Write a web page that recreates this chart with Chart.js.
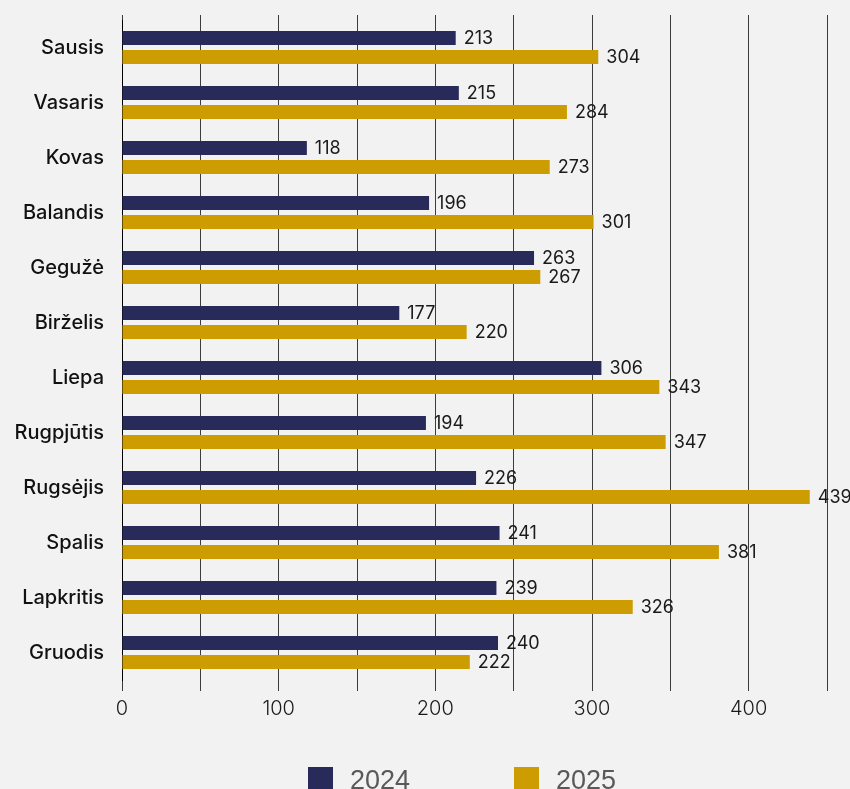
<!DOCTYPE html>
<html>
<head>
<meta charset="utf-8">
<script src="https://cdn.jsdelivr.net/npm/chart.js@4"></script>
<style>
  html, body { margin: 0; padding: 0; background: #f2f2f2; overflow: hidden; }
  canvas { display: block; }
</style>
</head>
<body>
<canvas id="chart" width="850" height="789"></canvas>
<script>
const MONTHS = ['Sausis', 'Vasaris', 'Kovas', 'Balandis', 'Gegužė', 'Birželis',
  'Liepa', 'Rugpjūtis', 'Rugsėjis', 'Spalis', 'Lapkritis', 'Gruodis'];
const VALUES_2024 = [213, 215, 118, 196, 263, 177, 306, 194, 226, 241, 239, 240];
const VALUES_2025 = [304, 284, 273, 301, 267, 220, 343, 347, 439, 381, 326, 222];
const SERIES_NAMES = ['2024', '2025'];
const X_MAX = 450;

const NAVY = '#282a5a';
const GOLD = '#cc9c00';

// value labels at the end of each bar
const valueLabels = {
  id: 'valueLabels',
  afterDatasetsDraw(chart) {
    const { ctx } = chart;
    ctx.save();
    ctx.font = '18px Inter';
    ctx.fillStyle = '#1a1a1a';
    ctx.textAlign = 'left';
    ctx.textBaseline = 'middle';
    chart.data.datasets.forEach((ds, i) => {
      chart.getDatasetMeta(i).data.forEach((bar, j) => {
        ctx.fillText(ds.data[j], bar.x + 8, bar.y + 1);
      });
    });
    ctx.restore();
  },
};

// gridlines poke a few px above the plot area
const gridTop = {
  id: 'gridTop',
  beforeDatasetsDraw(chart) {
    const { ctx, chartArea, scales } = chart;
    ctx.save();
    ctx.strokeStyle = '#3c3c3c';
    ctx.lineWidth = 1;
    scales.x.ticks.forEach((t) => {
      const x = Math.round(scales.x.getPixelForValue(t.value) - 0.5) + 0.5;
      ctx.beginPath();
      ctx.moveTo(x, chartArea.top - 5);
      ctx.lineTo(x, chartArea.top);
      ctx.stroke();
    });
    ctx.restore();
  },
};

// legend under the axis, wide spacing between items
const bottomLegend = {
  id: 'bottomLegend',
  afterDraw(chart) {
    const { ctx } = chart;
    const starts = [308, 514];
    ctx.save();
    ctx.font = '27px "Liberation Sans"';
    ctx.textBaseline = 'alphabetic';
    chart.data.datasets.forEach((ds, i) => {
      ctx.fillStyle = ds.backgroundColor;
      ctx.fillRect(starts[i], 767, 25, 25);
      ctx.fillStyle = '#595959';
      ctx.fillText(ds.label, starts[i] + 42, 788.5);
    });
    ctx.restore();
  },
};

new Chart(document.getElementById('chart'), {
  type: 'bar',
  data: {
    labels: MONTHS,
    datasets: [
      { label: SERIES_NAMES[0], data: VALUES_2024, backgroundColor: NAVY },
      { label: SERIES_NAMES[1], data: VALUES_2025, backgroundColor: GOLD },
    ],
  },
  options: {
    indexAxis: 'y',
    responsive: false,
    animation: false,
    categoryPercentage: 0.691,
    barPercentage: 0.737,
    layout: { padding: { top: 20, right: 23, left: 0, bottom: 0 } },
    scales: {
      x: {
        min: 0,
        max: X_MAX,
        ticks: {
          stepSize: 50,
          padding: 6,
          color: '#1a1a1a',
          font: { family: 'Inter', size: 20, weight: '300' },
          callback: (v) => (v % 100 === 0 && v < X_MAX ? v : ''),
          maxRotation: 0,
          autoSkip: false,
        },
        grid: { color: '#3c3c3c', lineWidth: 1, tickLength: 11 },
        border: { display: false },
        afterFit(scale) { scale.height = 109; },
      },
      y: {
        ticks: {
          padding: 18,
          color: '#111',
          font: { family: 'Inter', size: 20, weight: '500' },
        },
        grid: { display: false, drawTicks: false },
        border: { display: true, color: '#000', width: 1 },
        afterFit(scale) {
          scale.width = 122;
          scale.paddingTop = 0;
          scale.paddingBottom = 0;
        },
      },
    },
    plugins: {
      legend: { display: false },
      tooltip: { enabled: false },
    },
  },
  plugins: [gridTop, valueLabels, bottomLegend],
});
</script>
</body>
</html>
